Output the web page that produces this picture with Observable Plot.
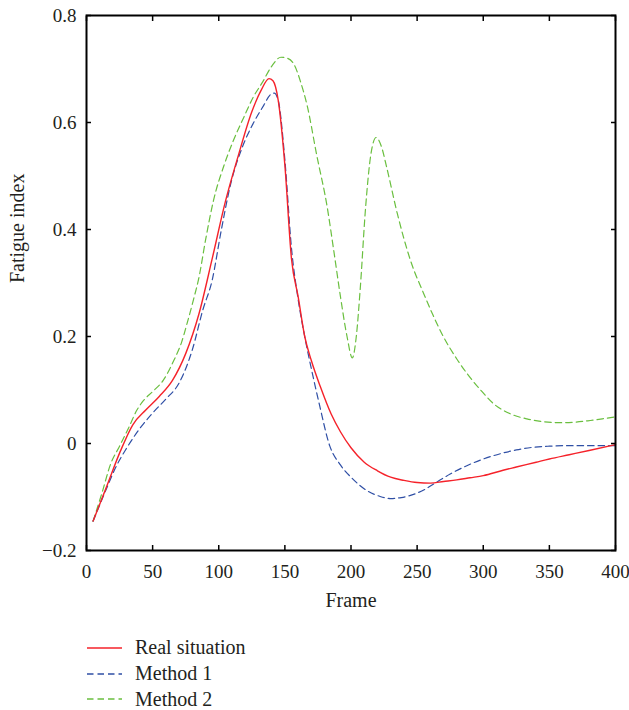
<!DOCTYPE html>
<html>
<head>
<meta charset="utf-8">
<script src="https://cdn.jsdelivr.net/npm/d3@7"></script>
<script src="https://cdn.jsdelivr.net/npm/@observablehq/plot@0.6"></script>
<style>
  html, body { margin: 0; padding: 0; background: #fff; }
  #chart svg { display: block; }
  .legend { font-family: "Liberation Serif", serif; font-size: 20px; color: #231f20; padding-top: 15px; }
  .legend .row { display: flex; align-items: center; height: 25.7px; }
  .legend svg { margin-left: 87px; margin-right: 13px; }
</style>
</head>
<body>
<div id="chart"></div>
<div class="legend" id="legend"></div>
<script>
const seriesNames = ["Real situation", "Method 1", "Method 2"];
const seriesColors = ["#f5222a", "#2f4fa5", "#6abf3f"];

const realX = [5, 15, 25, 35, 45, 55, 65, 75, 85, 95, 105, 115, 125, 132, 138, 141, 145, 150, 155, 160, 165, 170, 177, 185, 192, 200, 210, 220, 230, 240, 250, 260, 270, 280, 290, 300, 315, 325, 340, 350, 365, 380, 400];
const realY = [-0.145, -0.082, -0.018, 0.035, 0.063, 0.088, 0.118, 0.168, 0.242, 0.345, 0.452, 0.54, 0.62, 0.66, 0.682, 0.678, 0.641, 0.52, 0.345, 0.275, 0.2, 0.155, 0.105, 0.055, 0.022, -0.008, -0.035, -0.051, -0.063, -0.069, -0.073, -0.074, -0.071, -0.068, -0.064, -0.06, -0.05, -0.044, -0.035, -0.029, -0.021, -0.013, -0.002];

const m1X = [5, 15, 22, 30, 40, 50, 60, 70, 80, 88, 95, 102, 109, 118, 126, 134, 139, 142, 145, 150, 155, 160, 165, 170, 176, 184, 192, 200, 212, 222, 230, 238, 245, 255, 263, 275, 288, 300, 313, 325, 338, 350, 363, 380, 400];
const m1Y = [-0.145, -0.085, -0.045, -0.01, 0.027, 0.057, 0.083, 0.113, 0.175, 0.25, 0.305, 0.4, 0.485, 0.555, 0.598, 0.632, 0.652, 0.655, 0.641, 0.53, 0.365, 0.27, 0.2, 0.14, 0.074, -0.005, -0.04, -0.063, -0.088, -0.099, -0.103, -0.101, -0.097, -0.087, -0.075, -0.057, -0.041, -0.029, -0.019, -0.012, -0.007, -0.005, -0.004, -0.004, -0.004];

const m2X = [5, 12, 18, 25, 32, 38, 43, 50, 58, 66, 72, 76, 81, 85, 90, 96, 104, 111, 119, 126, 133, 140, 147, 152, 157, 162, 167, 174, 182, 187, 192, 197, 201, 204, 207, 211, 215, 219, 223, 227, 235, 245, 255, 262, 270, 280, 288, 298, 308, 320, 333, 345, 358, 370, 381, 390, 400];
const m2Y = [-0.145, -0.09, -0.04, -0.005, 0.03, 0.062, 0.08, 0.097, 0.118, 0.155, 0.19, 0.224, 0.27, 0.31, 0.38, 0.454, 0.52, 0.566, 0.61, 0.647, 0.675, 0.705, 0.722, 0.72, 0.708, 0.675, 0.63, 0.54, 0.442, 0.36, 0.275, 0.2, 0.16, 0.2, 0.29, 0.44, 0.54, 0.572, 0.555, 0.516, 0.43, 0.342, 0.28, 0.24, 0.199, 0.158, 0.13, 0.1, 0.074, 0.056, 0.046, 0.041, 0.039, 0.04, 0.043, 0.046, 0.05];

const xTicks = [0, 50, 100, 150, 200, 250, 300, 350, 400];
const yTicks = [-0.2, 0, 0.2, 0.4, 0.6, 0.8];
const xLabel = "Frame";
const yLabel = "Fatigue index";

const toRows = (xs, ys) => xs.map((x, i) => ({x, y: ys[i]}));
const real = toRows(realX, realY);
const m1 = toRows(m1X, m1Y);
const m2 = toRows(m2X, m2Y);

const yFmt = d => d === 0 ? "0" : d3.format(".1f")(d);

const chart = Plot.plot({
  width: 629,
  height: 620,
  marginLeft: 86,
  marginRight: 14,
  marginTop: 15,
  marginBottom: 70,
  style: { fontFamily: "Liberation Serif, serif", fontSize: "19px", color: "#231f20", background: "#fff" },
  x: { domain: [0, 400] },
  y: { domain: [-0.2, 0.8] },
  marks: [
    Plot.line(m2, { x: "x", y: "y", stroke: seriesColors[2], strokeWidth: 1.2, strokeDasharray: "6.5,4", curve: "monotone-x" }),
    Plot.line(m1, { x: "x", y: "y", stroke: seriesColors[1], strokeWidth: 1.2, strokeDasharray: "6.5,4", curve: "monotone-x" }),
    Plot.line(real, { x: "x", y: "y", stroke: seriesColors[0], strokeWidth: 1.4, curve: "monotone-x" }),
    Plot.axisX({ anchor: "bottom", ticks: xTicks, tickSize: -5, tickPadding: 19, label: null, stroke: "#000", strokeWidth: 1.5 }),
    Plot.axisX({ anchor: "top", ticks: xTicks, tickSize: -5, tickFormat: () => "", label: null, stroke: "#000", strokeWidth: 1.5 }),
    Plot.axisY({ anchor: "left", ticks: yTicks, tickSize: -5, tickPadding: 15, tickFormat: yFmt, label: null, stroke: "#000", strokeWidth: 1.5 }),
    Plot.axisY({ anchor: "right", ticks: yTicks, tickSize: -5, tickFormat: () => "", label: null, stroke: "#000", strokeWidth: 1.5 }),
    Plot.frame({ stroke: "#000", strokeWidth: 2 }),
    Plot.text([xLabel], { frameAnchor: "bottom", dy: 56, fontSize: 20, fill: "#231f20" }),
    Plot.text([yLabel], { frameAnchor: "left", dx: -69, rotate: -90, fontSize: 20, fill: "#231f20" })
  ]
});
document.getElementById("chart").appendChild(chart);

const legend = document.getElementById("legend");
seriesNames.forEach((name, i) => {
  const row = document.createElement("div");
  row.className = "row";
  const dash = i === 0 ? "" : ` stroke-dasharray="6.5,4"`;
  row.innerHTML = `<svg width="35" height="6"><line x1="0" y1="3" x2="35" y2="3" stroke="${seriesColors[i]}" stroke-width="1.5"${dash}/></svg><span>${name}</span>`;
  legend.appendChild(row);
});
</script>
</body>
</html>
